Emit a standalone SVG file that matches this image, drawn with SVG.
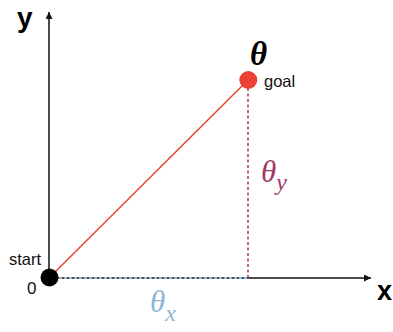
<svg xmlns="http://www.w3.org/2000/svg" width="393" height="332" viewBox="0 0 393 332">
<defs>
<marker id="arr" viewBox="0 0 10 10" refX="10" refY="5" markerWidth="7" markerHeight="7" markerUnits="userSpaceOnUse" orient="auto"><path d="M0,0 L10,5 L0,10 z" fill="#111"/></marker>
<style>
.axis{stroke:#111;stroke-width:1.5;fill:none}
.lbl{font-family:"Liberation Sans",Arial,sans-serif;fill:#111}
.ax{font-family:"Liberation Sans",Arial,sans-serif;font-weight:bold;fill:#000}
.th{font-family:"Liberation Serif","Times New Roman",serif;font-style:italic}
</style>
</defs>
<rect width="393" height="332" fill="#fff"/>
<g id="connectors">
<line class="axis" x1="49" y1="278" x2="49" y2="12" marker-end="url(#arr)"/>
<line class="axis" x1="49" y1="278" x2="371" y2="278" stroke="#333" marker-end="url(#arr)"/>
<line x1="49" y1="278" x2="248" y2="278" stroke="#8db5d6" stroke-width="2" stroke-dasharray="3,2"/>
<line x1="248" y1="88" x2="248" y2="277" stroke="#b0305c" stroke-width="1.5" stroke-dasharray="3,2.5"/>
<line x1="50" y1="277" x2="248" y2="80" stroke="#e8452f" stroke-width="1.5"/>
</g>
<g id="start">
<circle cx="49.5" cy="277.5" r="9" fill="#000"/>
<text class="lbl" x="9" y="265" font-size="16.5">start</text>
<text class="lbl" x="27" y="294" font-size="17">0</text>
</g>
<g id="goal">
<circle cx="248.3" cy="80" r="9" fill="#ea4335"/>
<text class="lbl" x="264" y="87" font-size="16.5">goal</text>
<text class="th" x="250" y="65" font-size="33" font-weight="bold" fill="#000">θ</text>
</g>
<g id="theta-y">
<text class="th" x="261" y="182" font-size="31" fill="#a03862">θ<tspan font-size="24" dy="8">y</tspan></text>
</g>
<g id="theta-x">
<text class="th" x="150" y="312" font-size="31" fill="#8db5d6">θ<tspan font-size="24" dy="9">x</tspan></text>
</g>
<g id="axis-labels">
<text class="ax" x="17" y="27" font-size="28">y</text>
<text class="ax" x="377" y="300" font-size="27">x</text>
</g>
</svg>
